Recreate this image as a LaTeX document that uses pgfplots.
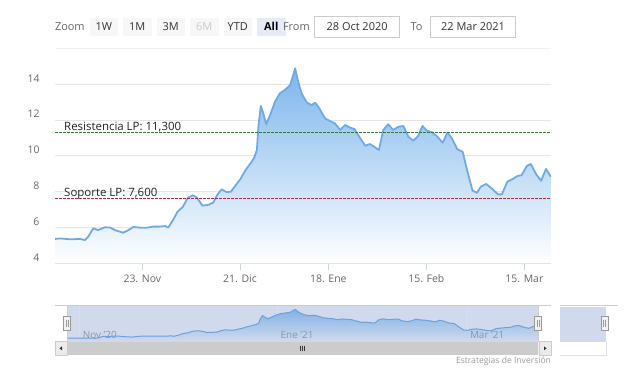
\documentclass[border=0pt]{standalone}
\usepackage{fontspec}
\setmainfont{Open Sans}
\usepackage{pgfplots}
\usepackage{pgfplotstable}
\pgfplotsset{compat=1.18}
\definecolor{hcblue}{HTML}{7CB5EC}
\definecolor{hcline}{HTML}{70AAE4}
\definecolor{axisc}{HTML}{CCD6EB}
\definecolor{gridc}{HTML}{E6E6E6}
\definecolor{labc}{HTML}{666666}
\definecolor{maskc}{HTML}{D1DAED}
\definecolor{resc}{HTML}{2E7D32}
\definecolor{supc}{HTML}{C0243C}
\pgfplotstableread{
x y
0.0 5.36
1.0 5.39
3.1 5.34
5.1 5.36
6.1 5.30
6.8 5.49
7.8 5.95
8.8 5.86
10.2 6.01
11.2 6.00
12.2 5.86
13.9 5.71
15.0 5.86
16.0 6.03
17.4 5.99
18.7 5.99
20.1 6.05
21.4 6.05
22.5 6.08
23.1 5.99
24.1 6.42
25.0 6.88
26.1 7.16
27.1 7.66
28.1 7.80
28.9 7.69
30.1 7.22
31.3 7.27
32.3 7.39
33.1 7.82
34.0 8.13
35.0 7.98
35.9 8.00
36.9 8.37
37.8 8.69
38.8 9.17
39.8 9.55
40.6 9.87
41.2 10.33
41.5 11.63
42.0 12.79
42.5 12.38
43.1 11.77
43.9 12.28
44.9 13.03
45.9 13.50
46.9 13.68
48.0 13.96
49.0 14.89
49.8 13.96
50.4 13.45
51.4 12.98
52.4 12.84
53.1 12.97
53.8 12.72
55.1 12.10
56.1 11.95
57.1 11.82
58.2 11.45
59.2 11.73
60.2 11.58
61.1 11.50
62.1 11.07
63.3 10.57
64.3 10.66
65.3 10.48
66.1 10.33
67.0 11.45
68.0 11.77
69.0 11.45
70.1 11.63
71.1 11.67
72.1 11.07
73.1 10.85
74.1 11.11
75.0 11.67
75.9 11.41
76.9 11.32
77.9 11.11
79.1 10.74
80.1 11.30
81.0 10.98
82.1 10.37
83.2 10.23
84.0 9.31
85.2 8.06
86.1 7.94
86.9 8.28
88.0 8.43
89.1 8.19
90.4 7.85
91.2 7.85
92.3 8.56
93.4 8.71
94.4 8.88
95.2 8.92
96.3 9.44
97.1 9.55
98.2 8.97
99.2 8.61
100.2 9.27
101.2 8.84
}\datatable
\begin{document}
\begin{tikzpicture}
\path[use as bounding box] (0,0) rectangle (633bp,-379bp);
\begin{scope}[x=1bp,y=-1bp,every node/.style={inner sep=0pt,outer sep=0pt}]
% toolbar
\node[anchor=west,text=labc,font=\fontsize{11}{13}\selectfont] at (55,26.7) {Zoom};
\foreach \xx/\lab/\col in {89.5/1W/333333,123/1M/333333,156.5/3M/333333,190/6M/CCCCCC,223.5/YTD/333333}{
  \fill[fill={rgb,255:red,247;green,247;blue,247}] (\xx,17.8) rectangle ++(28.5,18);
  \definecolor{tmpc}{HTML}{\col}
  \node[text=tmpc,font=\fontsize{11}{13}\selectfont] at (\xx+14.25,26.7) {\lab};
}
\fill[fill={rgb,255:red,230;green,235;blue,245}] (257,17.8) rectangle ++(28.5,18);
\node[font=\fontsize{11}{13}\selectfont\bfseries,text=black] at (271.25,26.7) {All};
\node[anchor=west,text=labc,font=\fontsize{11}{13}\selectfont] at (283,26.7) {From};
\draw[draw={rgb,255:red,204;green,204;blue,204},fill=white,line width=0.8bp] (314.5,16.5) rectangle (399.7,37);
\node[text={rgb,255:red,51;green,51;blue,51},font=\fontsize{11}{13}\selectfont] at (357.1,26.7) {28 Oct 2020};
\node[anchor=west,text=labc,font=\fontsize{11}{13}\selectfont] at (410.6,26.7) {To};
\draw[draw={rgb,255:red,204;green,204;blue,204},fill=white,line width=0.8bp] (430.8,16.5) rectangle (515.5,37);
\node[text={rgb,255:red,51;green,51;blue,51},font=\fontsize{11}{13}\selectfont] at (473.1,26.7) {22 Mar 2021};
\draw[draw={rgb,255:red,240;green,240;blue,240},line width=1.5bp] (56,48.3) -- (551,48.3);
% navigator background
\fill[maskc] (67,306.2) rectangle (538,341.7);
\foreach \gx in {79.5,277,467}{\draw[draw={rgb,255:red,215;green,222;blue,236},line width=0.8bp] (\gx,306.2) -- (\gx,341.7);}
% stray right panel
\fill[maskc] (560,306.7) rectangle (606,341.7);
\end{scope}
% main chart
\begin{axis}[
  at={(55bp,-263.3bp)}, anchor=south west, scale only axis,
  width=496bp, height=198.7bp,
  xmin=0, xmax=101.22, ymin=4, ymax=15.1,
  axis x line*=bottom, axis y line*=left,
  x axis line style={draw=axisc,-,line width=1bp},
  y axis line style={draw=none},
  xtick={17.82,37.76,55.78,75.78,95.78},
  xticklabels={23. Nov,21. Dic,18. Ene,15. Feb,15. Mar},
  ytick={4,6,8,10,12,14}, yticklabels={4,6,8,10,12,14},
  ymajorgrids, grid style={draw=gridc,line width=1bp},
  xtick style={draw=axisc,line width=1bp}, major tick length=7bp, tick align=outside,
  ytick style={draw=none},
  ticklabel style={font=\fontsize{10.5}{12}\selectfont, text=labc},
  yticklabel style={anchor=east, xshift=-5bp, yshift=6bp},
  xticklabel style={anchor=north, yshift=-1bp},
  no markers, clip=true,
]
\addplot[draw=none, top color=hcblue, bottom color=white] table {\datatable} -- (axis cs:101.2,4) -- (axis cs:0,4) -- cycle;
\addplot[hcline, line width=1.8bp, line join=round] table {\datatable};
\addplot[resc, line width=0.9bp, dash pattern=on 2.5bp off 1.5bp] coordinates {(0,11.3) (101.22,11.3)};
\addplot[supc, line width=0.9bp, dash pattern=on 2.5bp off 1.5bp] coordinates {(0,7.6) (101.22,7.6)};
\node[anchor=base west, inner sep=0pt, text={rgb,255:red,34;green,34;blue,34}, font=\fontsize{11.5}{13}\selectfont] at (axis cs:1.84,11.3) [yshift=2.5bp] {Resistencia LP: 11,300};
\node[anchor=base west, inner sep=0pt, text={rgb,255:red,34;green,34;blue,34}, font=\fontsize{11.5}{13}\selectfont] at (axis cs:1.84,7.6) [yshift=2.5bp] {Soporte LP: 7,600};
\end{axis}
% navigator
\begin{axis}[
  at={(67bp,-341.7bp)}, anchor=south west, scale only axis,
  width=471bp, height=35.5bp,
  xmin=0, xmax=101.22, ymin=4.17, ymax=15.95,
  hide axis, no markers, clip=true,
]
\addplot[draw=none, top color={rgb,255:red,130;green,178;blue,230}, bottom color=maskc] table {\datatable} -- (axis cs:101.2,4.17) -- (axis cs:0,4.17) -- cycle;
\addplot[color={rgb,255:red,110;green,160;blue,220}, line width=1bp] table {\datatable};
\end{axis}
\begin{scope}[x=1bp,y=-1bp,every node/.style={inner sep=0pt,outer sep=0pt}]
\foreach \gx/\lab in {82.8/Nov '20,280.6/Ene '21,470/Mar '21}{
  \node[anchor=west,text={rgb,255:red,140;green,150;blue,170},font=\fontsize{10}{12}\selectfont] at (\gx,335) {\lab};
}
% outline
\draw[draw={rgb,255:red,204;green,204;blue,204},line width=0.8bp] (55,305.7) -- (551,305.7);
\draw[draw={rgb,255:red,204;green,204;blue,204},line width=0.8bp] (67,305.7) -- (67,341.7);
\draw[draw={rgb,255:red,204;green,204;blue,204},line width=0.8bp] (538,305.7) -- (538,341.7);
% scrollbar
\fill[fill={rgb,255:red,242;green,242;blue,242}] (55,341.7) rectangle (551,355);
\fill[fill={rgb,255:red,204;green,204;blue,204}] (67,341.7) rectangle (538,355);
\draw[draw={rgb,255:red,204;green,204;blue,204},fill={rgb,255:red,235;green,235;blue,235},line width=0.6bp] (55,341.7) rectangle (67,355);
\draw[draw={rgb,255:red,204;green,204;blue,204},fill={rgb,255:red,235;green,235;blue,235},line width=0.6bp] (539,341.7) rectangle (551,355);
\fill[fill={rgb,255:red,51;green,51;blue,51}] (59.5,348.35) -- (62,346.3) -- (62,350.4) -- cycle;
\fill[fill={rgb,255:red,51;green,51;blue,51}] (546.5,348.35) -- (544,346.3) -- (544,350.4) -- cycle;
\foreach \rx in {300.5,302.5,304.5}{\draw[draw={rgb,255:red,51;green,51;blue,51},line width=0.6bp] (\rx,345.5) -- (\rx,351.2);}
% handles
\foreach \hx in {67,538,604.5}{
  \draw[draw={rgb,255:red,153;green,153;blue,153},fill={rgb,255:red,242;green,242;blue,242},line width=0.8bp] (\hx-3.5,316.5) rectangle (\hx+3.5,330);
  \draw[draw={rgb,255:red,153;green,153;blue,153},line width=0.6bp] (\hx-1,319.5) -- (\hx-1,327) (\hx+1,319.5) -- (\hx+1,327);
}
% stray panel outline
\draw[draw={rgb,255:red,204;green,204;blue,204},line width=0.8bp] (560,305.7) -- (618,305.7);
\draw[draw={rgb,255:red,225;green,225;blue,225},line width=0.8bp] (606,341.7) -- (606,355) -- (560,355);
% credit
\node[anchor=east,text={rgb,255:red,153;green,153;blue,153},font=\fontsize{8.6}{10}\selectfont] at (551,361.5) {Estrategias de Inversión};
\end{scope}
\end{tikzpicture}
\end{document}
